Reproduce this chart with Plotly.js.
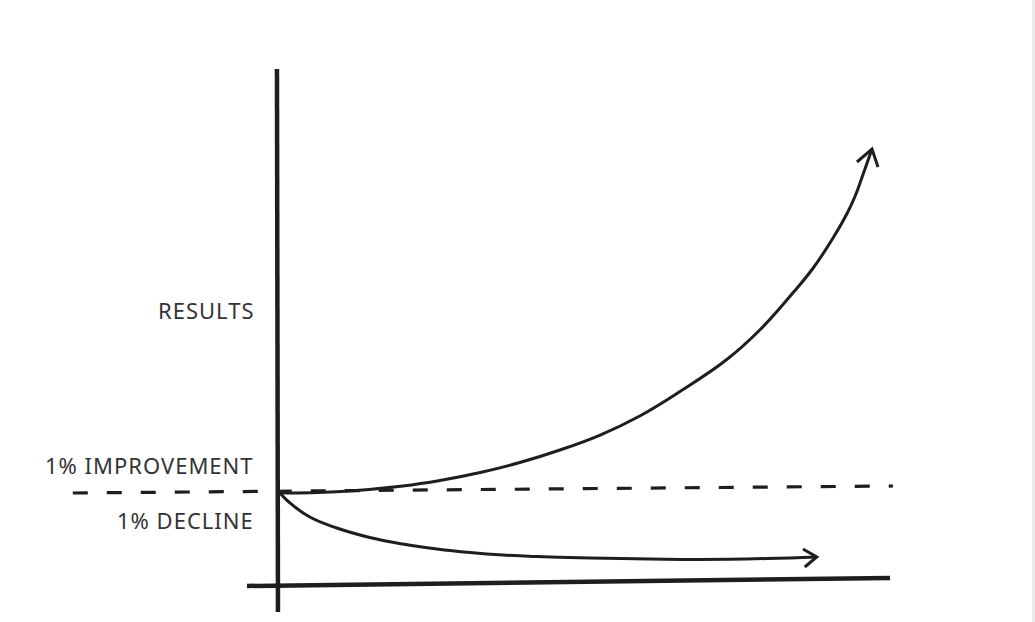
<!DOCTYPE html>
<html>
<head>
<meta charset="utf-8">
<script src="https://cdn.plot.ly/plotly-3.0.1.min.js"></script>
<style>
  html, body { margin: 0; padding: 0; background: #ffffff; }
  #chart { width: 1035px; height: 622px; }
  .annotation-text { letter-spacing: 1px; }
</style>
</head>
<body>
<div id="chart"></div>
<script>
// time (arbitrary units) and results (baseline = 1)
const improveT = [0.3, 9.8, 20.8, 27, 33.7, 40.3, 47, 53.7, 60.3, 67, 74.8, 80.3, 85.8, 89.2, 92.5, 94.8, 96.2, 97.3, 99];
const improveR = [1.0, 1.014, 1.078, 1.139, 1.228, 1.339, 1.478, 1.644, 1.856, 2.128, 2.483, 2.811, 3.222, 3.5, 3.833, 4.1, 4.3, 4.5, 4.822];
const improveHeadT = [96.5, 99, 100];
const improveHeadR = [4.678, 4.822, 4.622];

const declineT = [0.3, 2, 5.3, 9.8, 15.3, 20.8, 26.5, 32, 37.5, 43.2, 52, 62, 70.3, 81.5, 89.8];
const declineR = [1.0, 0.889, 0.733, 0.611, 0.506, 0.433, 0.378, 0.339, 0.311, 0.294, 0.278, 0.267, 0.261, 0.272, 0.289];
const declineHeadT = [87.5, 89.8, 87.8];
const declineHeadR = [0.378, 0.289, 0.178];

const baselineT = [-34.2, 102.5];
const baselineR = [1.0, 1.078];

const yAxisT = [-0.17, 0];
const yAxisR = [5.711, -0.322];
const xAxisT = [-5.17, 102];
const xAxisR = [-0.033, 0.056];

const labels = ["RESULTS", "1% IMPROVEMENT", "1% DECLINE"];
const labelR = [3.033, 1.311, 0.7];

const ink = '#1e1e1e';

const traces = [
  {x: baselineT, y: baselineR, mode: 'lines', line: {color: ink, width: 3.2, dash: '15px,19px'}},
  {x: xAxisT, y: xAxisR, mode: 'lines', line: {color: ink, width: 4.5}},
  {x: yAxisT, y: yAxisR, mode: 'lines', line: {color: ink, width: 4.5}},
  {x: improveT, y: improveR, mode: 'lines', line: {color: ink, width: 3, shape: 'spline', smoothing: 1.2, simplify: false}},
  {x: improveHeadT, y: improveHeadR, mode: 'lines', line: {color: ink, width: 3, simplify: false}},
  {x: declineT, y: declineR, mode: 'lines', line: {color: ink, width: 3, shape: 'spline', smoothing: 1.2, simplify: false}},
  {x: declineHeadT, y: declineHeadR, mode: 'lines', line: {color: ink, width: 3, simplify: false}}
];

const annotations = labels.map((txt, i) => ({
  x: -3.67, y: labelR[i], xref: 'x', yref: 'y',
  text: txt, showarrow: false, xanchor: 'right', yanchor: 'middle',
  font: {family: 'Noto Sans, sans-serif', size: 22, color: '#333333'}
}));

const layout = {
  width: 1035, height: 622,
  margin: {l: 0, r: 0, t: 0, b: 0},
  paper_bgcolor: '#ffffff', plot_bgcolor: '#ffffff',
  showlegend: false,
  xaxis: {range: [-46.33, 126.17], visible: false, fixedrange: true},
  yaxis: {range: [-0.4333, 6.478], visible: false, fixedrange: true},
  annotations: annotations,
  shapes: [{type: 'rect', xref: 'paper', yref: 'paper', x0: 1032/1035, x1: 1, y0: 0, y1: 1,
            fillcolor: '#ebebeb', line: {width: 0}, layer: 'below'}]
};

Plotly.newPlot('chart', traces, layout, {displayModeBar: false, staticPlot: true});
</script>
</body>
</html>
